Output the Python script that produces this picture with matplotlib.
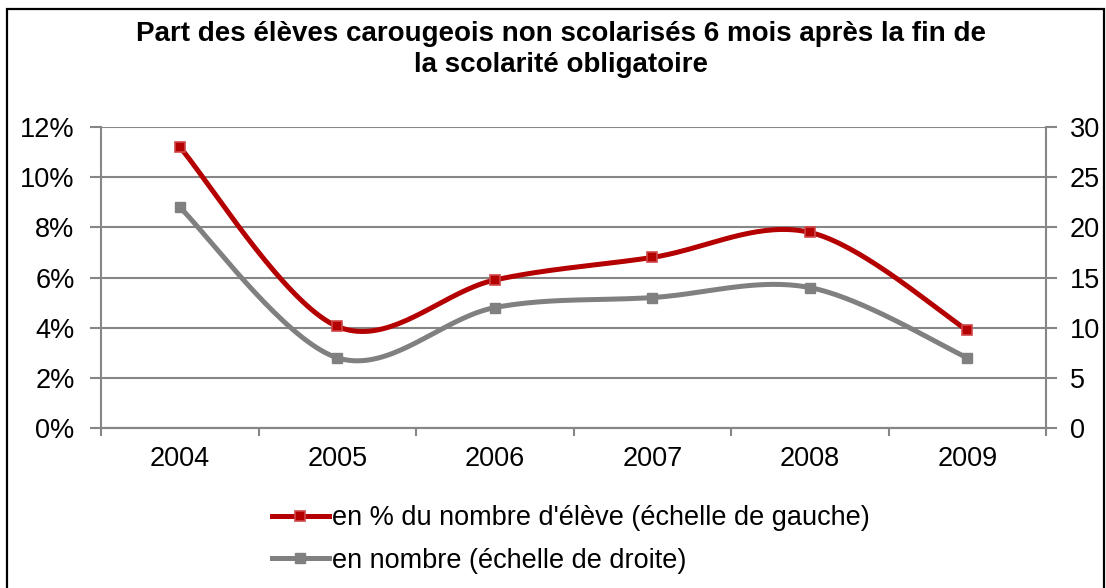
import numpy as np
import matplotlib
matplotlib.use("Agg")
import matplotlib.pyplot as plt
from matplotlib.ticker import FuncFormatter, FixedLocator, NullFormatter
from matplotlib.lines import Line2D
from matplotlib.patches import Rectangle

# ---- data ----
years = ["2004", "2005", "2006", "2007", "2008", "2009"]
pct_values = [0.112, 0.0405, 0.059, 0.068, 0.078, 0.039]   # left axis
count_values = [22, 7, 12, 13, 14, 7]                        # right axis
title = "Part des élèves carougeois non scolarisés 6 mois après la fin de\nla scolarité obligatoire"
label_pct = "en % du nombre d'élève (échelle de gauche)"
label_cnt = "en nombre (échelle de droite)"

RED = "#B40000"
RED_EDGE = "#D0484A"
GRAY = "#808080"
AXCOL = "#868686"

plt.rcParams['font.family'] = ['Liberation Sans', 'DejaVu Sans']

W, H = 1106, 588
fig = plt.figure(figsize=(W / 100, H / 100), dpi=100)

def px(x0, y0, x1, y1):
    return [x0 / W, 1 - y1 / H, (x1 - x0) / W, (y1 - y0) / H]

ax = fig.add_axes(px(101, 127, 1046, 428))
ax2 = ax.twinx()


def smooth(xs, ys, n=40):
    xs = np.asarray(xs, float)
    ys = np.asarray(ys, float)
    P = np.column_stack([xs, ys])
    out = []
    m = len(P)
    for i in range(m - 1):
        p0 = P[i - 1] if i > 0 else P[i]
        p1 = P[i]
        p2 = P[i + 1]
        p3 = P[i + 2] if i + 2 < m else P[i + 1]
        c1 = p1 + (p2 - p0) / 6.0
        c2 = p2 - (p3 - p1) / 6.0
        t = np.linspace(0, 1, n)[:, None]
        seg = ((1 - t) ** 3) * p1 + 3 * ((1 - t) ** 2) * t * c1 + 3 * (1 - t) * t ** 2 * c2 + t ** 3 * p2
        if i > 0:
            seg = seg[1:]
        out.append(seg)
    out = np.vstack(out)
    return out[:, 0], out[:, 1]

xpos = np.arange(len(years))

# left axis: percent series
sx, sy = smooth(xpos, pct_values)
ax.plot(sx, sy, color=RED, lw=3.6, solid_capstyle='round', zorder=4)
ax.plot(xpos, pct_values, ls='none', marker='s', ms=6.5, mfc=RED, mec=RED_EDGE, mew=1.2, zorder=5)

# right axis: counts
cx, cy = smooth(xpos, count_values)
ax2.plot(cx, cy, color=GRAY, lw=3.6, solid_capstyle='round', zorder=4)
ax2.plot(xpos, count_values, ls='none', marker='s', ms=7.5, mfc=GRAY, mec=GRAY, mew=1.0, zorder=5)

FS = 19.5
ax.set_xlim(-0.5, len(years) - 0.5)
ax.set_ylim(0, 0.12)
ax2.set_ylim(0, 30)
ax.set_yticks(np.arange(0, 0.1201, 0.02))
ax2.set_yticks(np.arange(0, 31, 5))
ax.yaxis.set_major_formatter(FuncFormatter(lambda v, p: f"{v*100:.0f}%"))

ax.set_xticks(xpos)
ax.set_xticklabels(years)
ax.xaxis.set_minor_locator(FixedLocator(np.arange(-0.5, len(years), 1.0)))
ax.xaxis.set_minor_formatter(NullFormatter())
ax.tick_params(axis='x', which='major', length=0, pad=13, labelsize=FS)
ax.tick_params(axis='x', which='minor', length=6, width=1.5, color=AXCOL, direction='out')
ax.tick_params(axis='y', length=8, width=1.5, color=AXCOL, pad=11, labelsize=FS)
ax2.tick_params(axis='y', length=8, width=1.5, color=AXCOL, pad=9, labelsize=FS)

ax.yaxis.grid(True, color=AXCOL, lw=1.5)
ax.set_axisbelow(True)
for a in (ax, ax2):
    a.spines['top'].set_visible(False)
    for s in ('left', 'right', 'bottom'):
        a.spines[s].set_color(AXCOL)
        a.spines[s].set_linewidth(1.5)
ax2.spines['left'].set_visible(False)
ax.spines['right'].set_visible(False)

fig.text(561 / W, 1 - 21 / H, title, ha='center', va='top', fontsize=20,
         fontweight='bold', linespacing=1.27)

handles = [
    Line2D([], [], color=RED, lw=3.6, marker='s', ms=6.5, mfc=RED, mec=RED_EDGE, mew=1.2),
    Line2D([], [], color=GRAY, lw=3.6, marker='s', ms=7.5, mfc=GRAY, mec=GRAY),
]
fig.legend(handles, [label_pct, label_cnt], loc='upper left',
           bbox_to_anchor=(272 / W, 1 - 505 / H), frameon=False, fontsize=FS,
           handlelength=2.1, handletextpad=0.1, labelspacing=0.62,
           borderpad=0, borderaxespad=0)

fig.add_artist(Rectangle((7 / W, -0.05), (1104 - 7) / W, (H - 9) / H + 0.05,
                         transform=fig.transFigure, fill=False, ec='black', lw=1.6))

fig.savefig("out.png", dpi=100)
